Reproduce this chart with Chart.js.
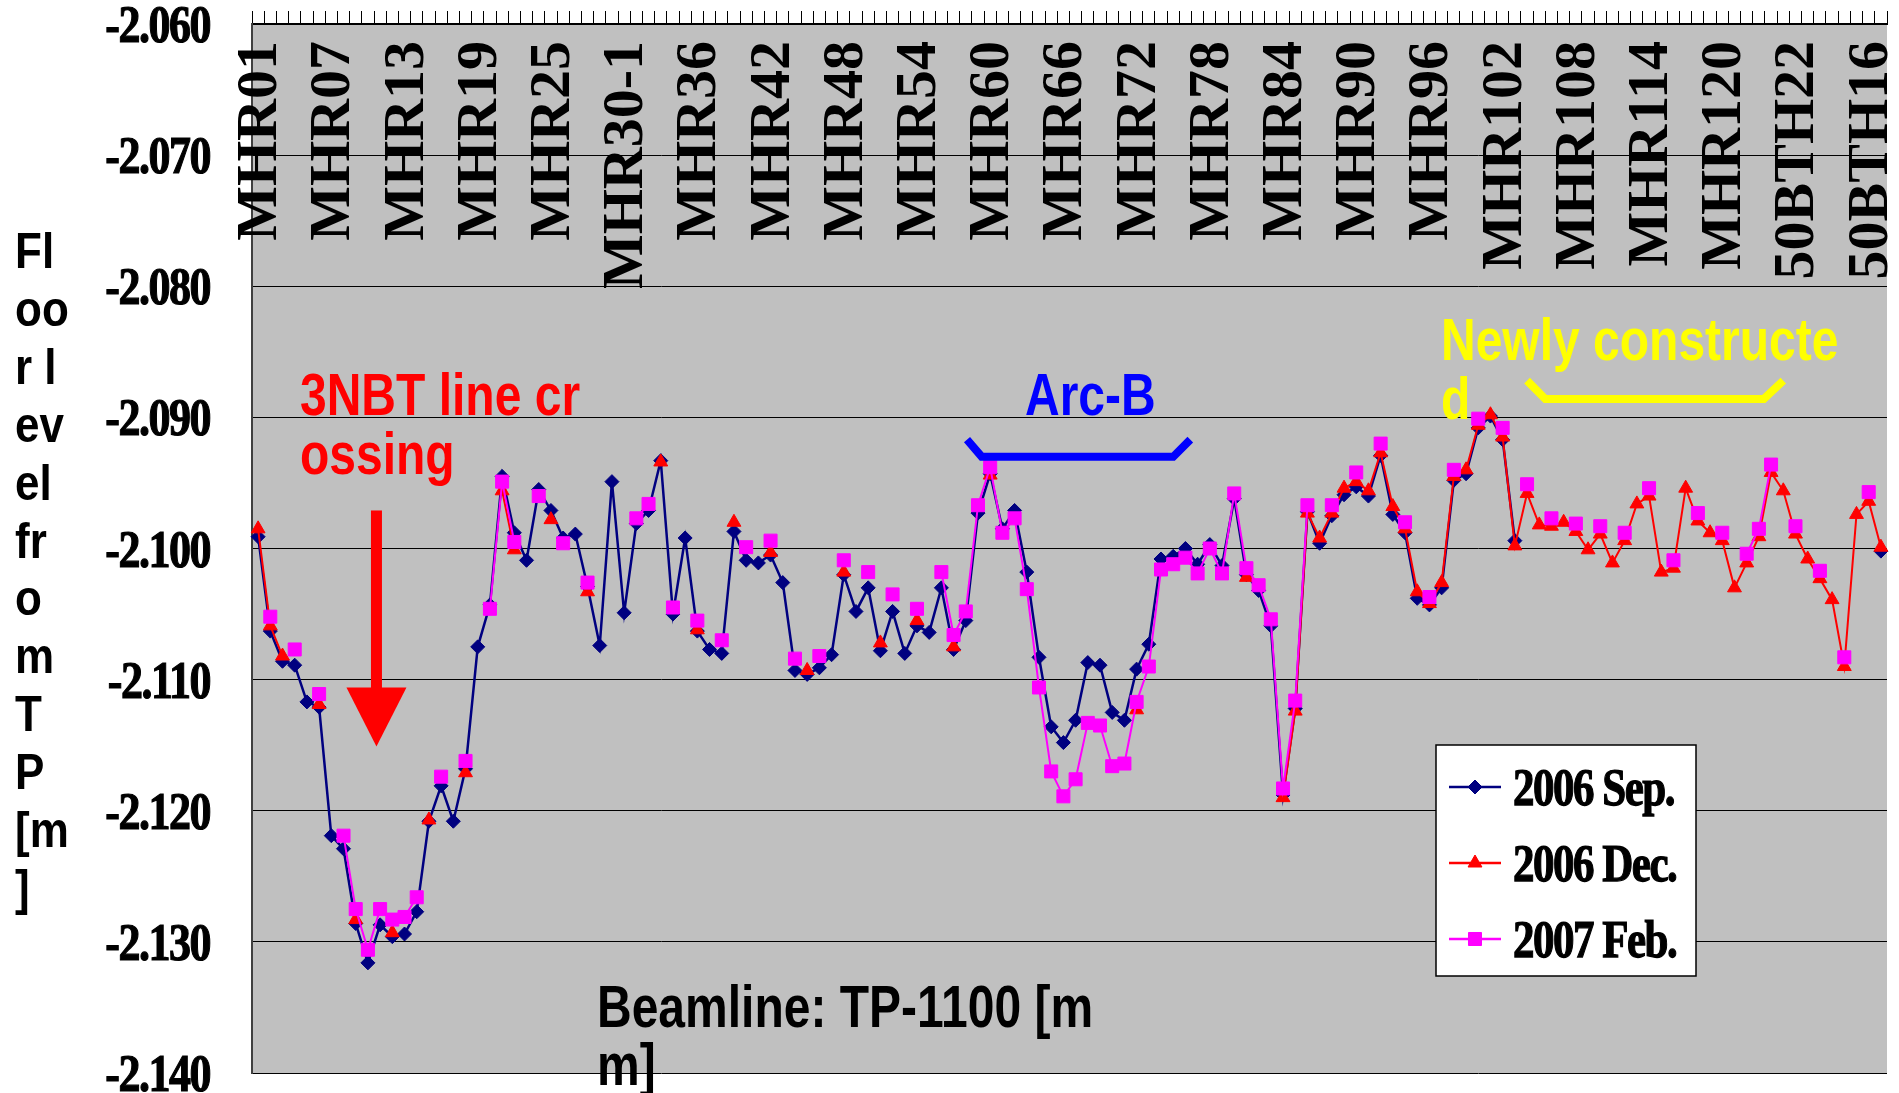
<!DOCTYPE html>
<html>
<head>
<meta charset="utf-8">
<script src="https://cdn.jsdelivr.net/npm/chart.js@4.4.1/dist/chart.umd.min.js"></script>
<style>
  html, body { margin: 0; padding: 0; background: #fff; }
  canvas { display: block; }
</style>
</head>
<body>
<canvas id="floorChart" width="1899" height="1093"></canvas>
<script>
// survey stations along the beamline (one every 6th is labelled)
const stations = [
  'MHR01','MHR02','MHR03','MHR04','MHR05','MHR06','MHR07','MHR08','MHR09','MHR10',
  'MHR11','MHR12','MHR13','MHR14','MHR15','MHR16','MHR17','MHR18','MHR19','MHR20',
  'MHR21','MHR22','MHR23','MHR24','MHR25','MHR26','MHR27','MHR28','MHR29','MHR30',
  'MHR30-1','MHR31','MHR32','MHR33','MHR34','MHR35','MHR36','MHR37','MHR38','MHR39',
  'MHR40','MHR41','MHR42','MHR43','MHR44','MHR45','MHR46','MHR47','MHR48','MHR49',
  'MHR50','MHR51','MHR52','MHR53','MHR54','MHR55','MHR56','MHR57','MHR58','MHR59',
  'MHR60','MHR61','MHR62','MHR63','MHR64','MHR65','MHR66','MHR67','MHR68','MHR69',
  'MHR70','MHR71','MHR72','MHR73','MHR74','MHR75','MHR76','MHR77','MHR78','MHR79',
  'MHR80','MHR81','MHR82','MHR83','MHR84','MHR85','MHR86','MHR87','MHR88','MHR89',
  'MHR90','MHR91','MHR92','MHR93','MHR94','MHR95','MHR96','MHR97','MHR98','MHR99',
  'MHR100','MHR101','MHR102','MHR103','MHR104','MHR105','MHR106','MHR107','MHR108','MHR109',
  'MHR110','MHR111','MHR112','MHR113','MHR114','MHR115','MHR116','MHR117','MHR118','MHR119',
  'MHR120','MHR121','MHR122','MHR123','MHR124','MHR125',
  '50BTH22','50BTH21','50BTH20','50BTH19','50BTH18','50BTH17','50BTH16','50BTH15'
];

// floor level from TP [m]
const sep2006 = [
  -2.0991,-2.1063,-2.1086,-2.1089,-2.1117,-2.1121,-2.1219,-2.1229,-2.1286,-2.1316,
  -2.1287,-2.1296,-2.1294,-2.1277,-2.1208,-2.1181,-2.1208,-2.1168,-2.1075,-2.1043,
  -2.0945,-2.0988,-2.1009,-2.0955,-2.0971,-2.0992,-2.0989,-2.1029,-2.1074,-2.0949,
  -2.1049,-2.0981,-2.0971,-2.0933,-2.1050,-2.0992,-2.1063,-2.1077,-2.1080,-2.0987,
  -2.1009,-2.1011,-2.1005,-2.1026,-2.1093,-2.1096,-2.1091,-2.1081,-2.1020,-2.1048,
  -2.1030,-2.1078,-2.1048,-2.1080,-2.1059,-2.1064,-2.1030,-2.1077,-2.1055,-2.0973,
  -2.0943,-2.0985,-2.0971,-2.1018,-2.1083,-2.1136,-2.1148,-2.1131,-2.1087,-2.1089,
  -2.1125,-2.1131,-2.1092,-2.1073,-2.1008,-2.1006,-2.1000,-2.1012,-2.0997,-2.1013,
  -2.0962,-2.1020,-2.1032,-2.1059,-2.1188,-2.1122,-2.0972,-2.0996,-2.0975,-2.0959,
  -2.0953,-2.0960,-2.0929,-2.0974,-2.0988,-2.1038,-2.1043,-2.1030,-2.0948,-2.0943,
  -2.0908,-2.0899,-2.0917,-2.0994,null,null,null,null,null,null,
  null,null,null,null,null,null,null,null,null,null,
  null,null,null,null,null,null,null,null,null,null,
  null,null,null,-2.1002
];

const dec2006 = [
  -2.0985,-2.1059,-2.1082,null,null,-2.1119,null,null,-2.1283,null,
  null,-2.1293,null,null,-2.1207,null,null,-2.1171,null,null,
  -2.0956,-2.1001,null,null,-2.0978,null,null,-2.1033,null,null,
  null,null,null,-2.0934,null,null,-2.1062,null,null,-2.0980,
  null,null,-2.1003,null,null,-2.1093,null,null,-2.1018,null,
  null,-2.1072,null,null,-2.1055,null,null,-2.1075,null,null,
  -2.0944,null,null,null,null,null,null,null,null,null,
  null,null,-2.1123,null,null,null,null,null,null,null,
  null,-2.1022,null,null,-2.1190,-2.1124,-2.0973,-2.0992,-2.0973,-2.0954,
  -2.0949,-2.0956,-2.0927,-2.0968,-2.0985,-2.1033,-2.1042,-2.1026,-2.0945,-2.0940,
  -2.0906,-2.0898,-2.0915,-2.0998,-2.0958,-2.0982,-2.0983,-2.0980,-2.0987,-2.1001,
  -2.0989,-2.1011,-2.0994,-2.0966,-2.0960,-2.1018,-2.1015,-2.0954,-2.0979,-2.0988,
  -2.0994,-2.1030,-2.1011,-2.0991,-2.0942,-2.0956,-2.0989,-2.1008,-2.1023,-2.1039,
  -2.1090,-2.0974,-2.0964,-2.0999
];

const feb2007 = [
  null,-2.1052,null,-2.1077,null,-2.1111,null,-2.1219,-2.1275,-2.1306,
  -2.1275,-2.1283,-2.1281,-2.1266,null,-2.1174,null,-2.1162,null,-2.1046,
  -2.0949,-2.0995,null,-2.0960,null,-2.0996,null,-2.1026,null,null,
  null,-2.0977,-2.0966,null,-2.1045,null,-2.1055,null,-2.1070,null,
  -2.0999,null,-2.0994,null,-2.1084,null,-2.1082,null,-2.1009,null,
  -2.1018,null,-2.1035,null,-2.1046,null,-2.1018,-2.1066,-2.1048,-2.0967,
  -2.0938,-2.0988,-2.0977,-2.1031,-2.1106,-2.1170,-2.1189,-2.1176,-2.1133,-2.1135,
  -2.1166,-2.1164,-2.1117,-2.1090,-2.1016,-2.1012,-2.1007,-2.1019,-2.1000,-2.1019,
  -2.0958,-2.1015,-2.1028,-2.1054,-2.1183,-2.1116,-2.0967,null,-2.0967,null,
  -2.0942,null,-2.0920,null,-2.0980,null,-2.1037,null,-2.0940,null,
  -2.0901,null,-2.0908,null,-2.0951,null,-2.0977,null,-2.0981,null,
  -2.0983,null,-2.0988,null,-2.0954,null,-2.1009,null,-2.0973,null,
  -2.0988,null,-2.1004,-2.0985,-2.0936,null,-2.0983,null,-2.1017,null,
  -2.1083,null,-2.0957,null
];

const yTickValues = [-2.06, -2.07, -2.08, -2.09, -2.10, -2.11, -2.12, -2.13, -2.14];
const yTickLabels = ['-2.060','-2.070','-2.080','-2.090','-2.100','-2.110','-2.120','-2.130','-2.140'];
const yTitleLines = ['Fl','oo','r l','ev','el','fr','o','m','T','P','[m',']'];

const SERIF = '"Liberation Serif", "Times New Roman", serif';
const SANS = '"Liberation Sans", Arial, sans-serif';

const seriesStyle = [
  {label: '2006 Sep.', color: '#000080', point: 'rectRot', radius: 7},
  {label: '2006 Dec.', color: '#ff0000', point: 'triangle', radius: 8},
  {label: '2007 Feb.', color: '#ff00ff', point: 'rect', radius: 9.2}
];

// text drawn a bit taller than wide, like the rest of the sheet
function drawText(ctx, str, x, y, font, color, align, sy, heavy, spacing) {
  ctx.save();
  ctx.font = font;
  ctx.fillStyle = color;
  ctx.textAlign = align || 'left';
  ctx.textBaseline = 'alphabetic';
  if (spacing) ctx.letterSpacing = spacing;
  ctx.translate(x, y);
  ctx.scale(1, sy || 1);
  ctx.fillText(str, 0, 0);
  if (heavy) {
    ctx.strokeStyle = color;
    ctx.lineWidth = heavy;
    ctx.strokeText(str, 0, 0);
  }
  ctx.restore();
}

const plotBackground = {
  id: 'plotBackground',
  beforeDraw(chart) {
    const {ctx, chartArea: a} = chart;
    ctx.save();
    ctx.fillStyle = '#c0c0c0';
    ctx.fillRect(a.left, a.top, a.right - a.left, a.bottom - a.top);
    ctx.restore();
  }
};

// rotated station names hanging down from the top axis
const stationLabels = {
  id: 'stationLabels',
  beforeDatasetsDraw(chart) {
    const {ctx, chartArea: a} = chart;
    const x = chart.scales.x;
    ctx.save();
    ctx.font = 'bold 58px ' + SERIF;
    ctx.fillStyle = '#000';
    ctx.textAlign = 'right';
    ctx.textBaseline = 'middle';
    stations.forEach((name, i) => {
      if (i % 6 !== 0) return;
      ctx.save();
      ctx.translate(x.getPixelForValue(i) + 3, a.top + 17);
      ctx.rotate(-Math.PI / 2);
      ctx.fillText(name, 0, 0);
      ctx.restore();
    });
    ctx.restore();
  }
};

const notes = {
  id: 'notes',
  afterDatasetsDraw(chart) {
    const {ctx} = chart;
    const x = chart.scales.x, y = chart.scales.y;
    const px = i => x.getPixelForValue(i);
    const py = v => y.getPixelForValue(v);
    const big = 'bold 48px ' + SANS;

    // 3NBT crossing
    drawText(ctx, '3NBT line cr', 300, 415, big, '#ff0000', 'left', 1.25);
    drawText(ctx, 'ossing', 300, 474, big, '#ff0000', 'left', 1.25);
    const ax = px(9.7);
    ctx.save();
    ctx.fillStyle = '#ff0000';
    ctx.fillRect(ax - 5.5, py(-2.0971), 11, py(-2.1106) - py(-2.0971) + 1);
    ctx.beginPath();
    ctx.moveTo(ax - 30, py(-2.1106));
    ctx.lineTo(ax + 30, py(-2.1106));
    ctx.lineTo(ax, py(-2.1151));
    ctx.closePath();
    ctx.fill();
    ctx.restore();

    // Arc-B bracket
    drawText(ctx, 'Arc-B', 1025, 415, big, '#0000ff', 'left', 1.25);
    ctx.save();
    ctx.lineWidth = 8;
    ctx.strokeStyle = '#0000ff';
    ctx.beginPath();
    ctx.moveTo(px(58.1), py(-2.0917));
    ctx.lineTo(px(59.3), py(-2.0930));
    ctx.lineTo(px(75.0), py(-2.0930));
    ctx.lineTo(px(76.4), py(-2.0917));
    ctx.stroke();

    // newly constructed section
    ctx.strokeStyle = '#ffff00';
    ctx.beginPath();
    ctx.moveTo(px(104.0), py(-2.0872));
    ctx.lineTo(px(105.5), py(-2.0886));
    ctx.lineTo(px(123.4), py(-2.0886));
    ctx.lineTo(px(125.0), py(-2.0872));
    ctx.stroke();
    ctx.restore();
    drawText(ctx, 'Newly constructe', 1441, 360, big, '#ffff00', 'left', 1.25);
    drawText(ctx, 'd', 1441, 419, big, '#ffff00', 'left', 1.25);

    // x axis caption sits inside the plot
    drawText(ctx, 'Beamline: TP-1100 [m', 597, 1027, big, '#000', 'left', 1.25);
    drawText(ctx, 'm]', 597, 1085, big, '#000', 'left', 1.25);
  },
  afterDraw(chart) {
    const {ctx} = chart;
    const y = chart.scales.y;

    // value labels left of the plot
    yTickValues.forEach((v, k) => {
      drawText(ctx, yTickLabels[k], 210, y.getPixelForValue(v) + 18, 'bold 44px ' + SERIF, '#000', 'right', 1.2, 1, '-1.5px');
    });

    // axis title, broken into short lines
    yTitleLines.forEach((line, k) => {
      drawText(ctx, line, 15, 268 + k * 57.9, 'bold 44px ' + SANS, '#000', 'left', 1.15);
    });

    // legend box
    ctx.save();
    ctx.fillStyle = '#fff';
    ctx.strokeStyle = '#000';
    ctx.lineWidth = 1.5;
    ctx.fillRect(1436, 745, 260, 231);
    ctx.strokeRect(1436, 745, 260, 231);
    seriesStyle.forEach((s, k) => {
      const ly = 787 + k * 76;
      ctx.strokeStyle = s.color;
      ctx.fillStyle = s.color;
      ctx.lineWidth = 2.5;
      ctx.beginPath();
      ctx.moveTo(1449, ly);
      ctx.lineTo(1501, ly);
      ctx.stroke();
      ctx.lineWidth = 1;
      Chart.helpers.drawPoint(ctx, {pointStyle: s.point, rotation: 0, radius: s.radius, borderWidth: 1}, 1475, ly);
      drawText(ctx, s.label, 1513, ly + 18, 'bold 43px ' + SERIF, '#000', 'left', 1.25, 1, '-1.5px');
    });
    ctx.restore();
  }
};

function makeDataset(values, k, order) {
  const s = seriesStyle[k];
  return {
    label: s.label,
    data: values,
    borderColor: s.color,
    backgroundColor: s.color,
    borderWidth: k === 0 ? 2.5 : 2,
    pointStyle: s.point,
    pointRadius: s.radius,
    pointBorderWidth: 1,
    tension: 0,
    spanGaps: false,
    order: order
  };
}

const ctx = document.getElementById('floorChart').getContext('2d');
const chart = new Chart(ctx, {
  type: 'line',
  data: {
    labels: stations,
    datasets: [
      makeDataset(sep2006, 0, 3),
      makeDataset(dec2006, 1, 2),
      makeDataset(feb2007, 2, 1)
    ]
  },
  options: {
    responsive: false,
    animation: false,
    devicePixelRatio: 1,
    events: [],
    layout: {padding: {top: 10, right: 12, bottom: 20, left: 0}},
    plugins: {legend: {display: false}, tooltip: {enabled: false}},
    scales: {
      x: {
        type: 'category',
        position: 'top',
        offset: true,
        grid: {offset: true, drawOnChartArea: false, drawTicks: true, tickLength: 13, color: '#000', lineWidth: 1},
        border: {display: true, color: '#000', width: 2},
        ticks: {display: false},
        afterFit(scale) { scale.height = 14; }
      },
      y: {
        min: -2.14,
        max: -2.06,
        ticks: {display: false, stepSize: 0.01},
        grid: {color: '#000', lineWidth: 1, drawTicks: false},
        border: {display: true, color: '#404040', width: 2},
        afterFit(scale) { scale.width = 252; }
      }
    }
  },
  plugins: [plotBackground, stationLabels, notes]
});
</script>
</body>
</html>
